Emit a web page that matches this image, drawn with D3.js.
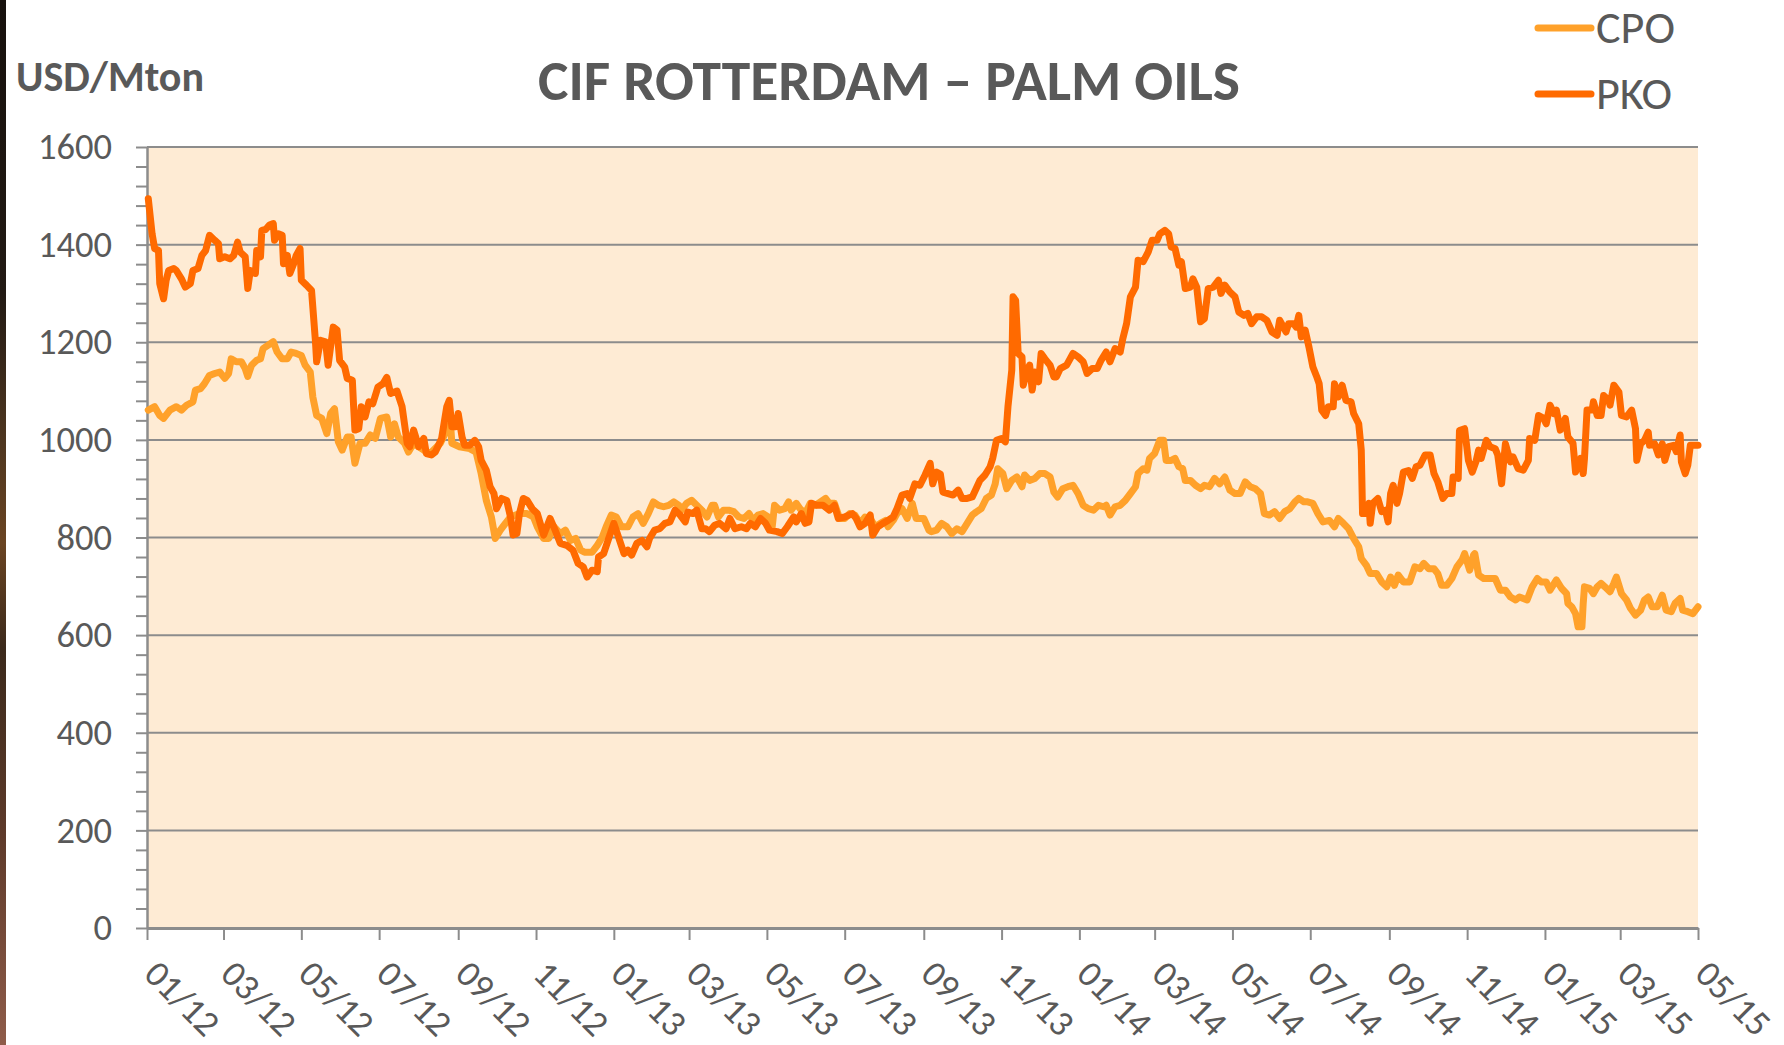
<!DOCTYPE html>
<html>
<head>
<meta charset="utf-8">
<script src="https://cdn.jsdelivr.net/npm/d3@7"></script>
<style>
  body { margin: 0; background: #fff; }
  svg { display: block; }
</style>
</head>
<body>
<svg id="chart" width="1784" height="1045"></svg>
<script>
// chart texts
var title = "CIF ROTTERDAM \u2013 PALM OILS";
var unitLabel = "USD/Mton";
var seriesNames = ["CPO", "PKO"];

// axis range and ticks
var startDate = new Date(2012, 0, 1), endDate = new Date(2015, 4, 1);
var yMajor = [0, 200, 400, 600, 800, 1000, 1200, 1400, 1600];

// prices: [days since 1 Jan 2012, USD/Mton]
var cpo = [[1,1061],[6,1068],[10,1050],[13,1044],[18,1061],[23,1068],[27,1061],[31,1071],[36,1078],[38,1102],[42,1105],[45,1115],[49,1132],[53,1136],[57,1139],[61,1126],[64,1136],[66,1166],[70,1160],[74,1160],[77,1146],[79,1130],[82,1153],[86,1163],[89,1166],[91,1187],[95,1194],[99,1201],[102,1180],[106,1166],[110,1166],[113,1180],[117,1177],[121,1173],[124,1153],[128,1139],[130,1088],[133,1050],[137,1044],[141,1013],[144,1054],[147,1064],[150,996],[153,979],[157,1006],[160,1006],[163,952],[167,993],[171,993],[175,1010],[179,1003],[183,1044],[188,1047],[191,1006],[194,1033],[197,1006],[202,993],[205,975],[209,993],[217,979],[222,972],[230,993],[235,1020],[238,1033],[239,993],[245,986],[253,982],[258,975],[262,931],[266,876],[270,842],[273,798],[277,815],[281,829],[285,842],[292,849],[298,849],[303,842],
  [306,822],[311,798],[315,798],[319,822],[324,808],[328,815],[332,794],[336,798],[340,774],[343,770],[349,770],[353,784],[357,801],[360,822],[364,846],[368,842],[372,822],[377,822],[381,842],[385,849],[389,829],[393,849],[397,873],[401,866],[405,863],[409,866],[413,873],[417,866],[419,856],[423,870],[427,876],[431,866],[435,856],[439,842],[443,866],[445,866],[448,842],[452,856],[456,856],[460,853],[464,842],[468,839],[472,849],[475,835],[479,846],[483,849],[487,842],[490,818],[492,866],[496,856],[500,859],[503,873],[505,856],[509,870],[512,859],[516,849],[520,870],[524,866],[528,873],[532,880],[535,870],[539,870],[543,839],[547,839],[551,849],[555,846],[559,829],[563,842],[567,839],[571,822],[575,829],[579,835],[581,822],[585,835],[588,849],[592,859],[596,839],[600,870],[603,839],[609,839],[613,815],
  [615,812],[619,815],[623,829],[627,822],[631,808],[635,818],[639,812],[643,829],[647,846],[650,852],[654,859],[658,880],[662,887],[665,910],[667,941],[671,931],[674,900],[678,917],[682,924],[686,904],[688,928],[692,917],[696,921],[700,931],[704,931],[708,924],[711,893],[714,883],[718,900],[722,904],[726,907],[730,890],[734,866],[738,859],[742,856],[746,866],[750,863],[752,866],[755,846],[759,863],[763,866],[767,876],[771,890],[775,904],[777,931],[781,941],[784,938],[786,962],[790,972],[794,999],[797,999],[799,958],[803,958],[806,962],[809,945],[812,941],[814,917],[818,917],[822,907],[826,900],[829,907],[833,904],[837,921],[841,910],[845,924],[849,897],[853,890],[857,890],[861,914],[865,904],[869,900],[873,890],[876,849],[880,846],[884,853],[888,839],[892,853],[896,859],[900,873],[903,880],[907,873],[910,873],[914,870],[918,849],[922,832],
  [927,835],[931,822],[934,839],[938,829],[942,818],[946,798],[950,781],[952,757],[956,743],[959,726],[964,726],[968,709],[972,699],[975,719],[978,702],[981,723],[985,709],[990,709],[994,740],[998,736],[1001,747],[1005,736],[1009,736],[1012,726],[1015,702],[1019,702],[1023,716],[1027,740],[1031,754],[1033,767],[1037,733],[1040,764],[1041,767],[1044,723],[1048,716],[1053,716],[1057,716],[1061,692],[1065,692],[1069,678],[1073,672],[1076,678],[1082,672],[1086,699],[1090,716],[1093,709],[1097,709],[1100,692],[1105,713],[1109,696],[1113,685],[1114,665],[1117,658],[1120,644],[1122,617],[1125,617],[1126,665],[1127,699],[1131,696],[1134,685],[1137,699],[1140,706],[1143,699],[1147,689],[1150,706],[1152,719],[1156,685],[1160,672],[1163,655],[1167,641],[1171,651],[1174,672],[1177,678],[1180,658],[1184,658],[1188,682],[1191,651],[1195,648],[1198,665],[1202,675],[1204,651],[1208,648],[1212,644],[1216,658]];

var pko = [[1,1494],[4,1422],[6,1392],[9,1388],[10,1320],[13,1289],[15,1327],[17,1347],[21,1351],[23,1347],[27,1330],[30,1313],[34,1320],[36,1347],[40,1351],[43,1378],[46,1388],[49,1419],[53,1409],[56,1402],[57,1371],[61,1375],[65,1371],[68,1378],[71,1405],[73,1385],[77,1375],[79,1310],[81,1347],[85,1341],[86,1388],[89,1375],[90,1429],[93,1431],[96,1440],[99,1443],[100,1409],[103,1422],[106,1419],[107,1361],[110,1378],[112,1341],[115,1361],[117,1378],[120,1392],[121,1327],[125,1317],[129,1306],[132,1204],[133,1160],[136,1204],[140,1201],[142,1153],[146,1231],[149,1225],[151,1163],[155,1149],[157,1126],[161,1122],[162,1068],[163,1020],[166,1023],[168,1068],[171,1047],[174,1078],[177,1074],[181,1108],[185,1115],[188,1128],[191,1095],[196,1100],[200,1068],[204,993],[206,986],[209,1020],[213,986],[217,1003],[219,972],[223,969],[226,975],[228,986],[231,1003],[235,1068],[237,1081],[239,1027],[242,1027],[244,1054],[247,1006],[249,989],[253,989],[257,999],[260,986],[262,958],[266,938],[269,904],[272,890],[274,859],[278,880],[282,876],[285,842],[287,805],[290,808],[292,849],[295,880],[298,876],[302,859],
  [306,849],[311,805],[316,839],[320,815],[324,788],[329,784],[334,774],[338,747],[342,740],[345,719],[349,733],[353,730],[354,760],[358,767],[362,798],[366,829],[370,798],[374,767],[377,774],[380,764],[384,788],[388,794],[392,781],[394,798],[398,815],[402,818],[406,829],[410,832],[414,856],[418,846],[422,832],[424,852],[428,849],[431,856],[435,818],[438,818],[441,812],[445,825],[449,829],[454,818],[457,839],[461,818],[466,822],[470,818],[473,829],[477,822],[481,839],[485,829],[488,815],[494,812],[498,808],[502,822],[507,842],[509,832],[513,849],[516,829],[519,832],[521,870],[525,866],[530,866],[535,856],[539,866],[542,839],[547,842],[553,849],[556,839],[559,822],[563,829],[567,846],[569,805],[573,822],[577,829],[581,835],[585,842],[588,859],[592,887],[596,890],[598,880],[602,910],[606,907],
  [610,928],[614,952],[616,910],[619,934],[622,930],[624,893],[628,890],[632,887],[636,897],[639,880],[643,880],[647,883],[650,900],[653,917],[657,928],[661,945],[663,962],[666,999],[670,1003],[673,996],[675,1068],[678,1143],[679,1293],[681,1286],[683,1177],[686,1170],[687,1112],[690,1143],[692,1153],[694,1102],[696,1139],[699,1119],[701,1177],[704,1166],[708,1153],[711,1129],[713,1129],[716,1146],[721,1153],[726,1177],[730,1170],[734,1160],[737,1136],[741,1146],[745,1146],[748,1163],[752,1180],[755,1160],[759,1187],[763,1180],[765,1207],[768,1238],[771,1293],[775,1313],[777,1368],[781,1365],[785,1385],[788,1409],[792,1409],[794,1422],[798,1429],[801,1422],[803,1395],[806,1392],[809,1358],[811,1365],[814,1310],[818,1313],[820,1330],[823,1313],[826,1242],[829,1248],[832,1310],[836,1313],[840,1327],[842,1300],[845,1317],[849,1303],[853,1293],[856,1262],[860,1255],[863,1259],[866,1238],[870,1252],[874,1252],[878,1245],[882,1221],[886,1214],[888,1245],[891,1231],[893,1221],[895,1238],[899,1238],[901,1231],[903,1255],[905,1211],[908,1225],[911,1190],[914,1150],[917,1130],[919,1115],[921,1061],
  [924,1050],[926,1068],[930,1068],[931,1115],[934,1088],[937,1112],[940,1081],[944,1078],[946,1054],[950,1033],[952,979],[953,849],[955,849],[958,870],[959,829],[961,870],[965,880],[968,853],[971,856],[973,832],[975,890],[977,907],[980,870],[982,890],[985,934],[989,937],[992,921],[995,945],[998,948],[1002,969],[1006,969],[1009,931],[1012,914],[1016,880],[1019,890],[1023,890],[1024,924],[1028,921],[1029,1019],[1033,1023],[1036,958],[1039,934],[1042,956],[1044,979],[1046,962],[1050,999],[1053,986],[1057,982],[1059,969],[1062,910],[1065,992],[1069,955],[1071,965],[1075,941],[1079,938],[1083,958],[1084,1003],[1088,999],[1091,1050],[1095,1044],[1097,1033],[1100,1071],[1103,1054],[1105,1061],[1108,1020],[1112,1044],[1114,1006],[1118,993],[1120,934],[1124,962],[1126,931],[1127,962],[1129,1061],[1133,1061],[1134,1078],[1137,1050],[1140,1050],[1142,1091],[1146,1081],[1147,1071],[1150,1112],[1154,1098],[1156,1050],[1160,1047],[1164,1061],[1167,1023],[1168,958],[1171,992],[1174,999],[1177,1016],[1178,989],[1182,992],[1185,969],[1188,992],[1190,958],[1193,986],[1197,989],[1199,976],[1202,1010],[1203,955],[1206,931],[1208,948],[1210,989],[1212,989],[1216,989]];

var colors = { CPO: "#ffa12a", PKO: "#ff6a00" };
var font = "Carlito, Calibri, Lato, sans-serif";
var textCol = "#595959", gridCol = "#8c8c8c";

var plot = { left: 147, right: 1698, top: 147, bottom: 928 };

var svg = d3.select("#chart");

// font size that makes a string a given width
function fitSize(str, weight, target) {
    var t = svg.append("text").attr("font-family", font).attr("font-weight", weight)
        .attr("font-size", 100).text(str);
    var w = t.node().getComputedTextLength();
    t.remove();
    return 100 * target / w;
}

// dark strip on the left edge of the slide
var grad = svg.append("defs").append("linearGradient").attr("id", "edge")
    .attr("x1", 0).attr("y1", 0).attr("x2", 0).attr("y2", 1);
[[0, "#17110d"], [0.28, "#221a14"], [0.42, "#4e3620"], [0.52, "#6a4422"], [0.62, "#3c2a1c"], [0.8, "#5e3a2a"], [1, "#8f5c4a"]]
    .forEach(function(s) { grad.append("stop").attr("offset", s[0]).attr("stop-color", s[1]); });
svg.append("rect").attr("x", 0).attr("y", 0).attr("width", 6).attr("height", 1045).attr("fill", "url(#edge)");

var x = d3.scaleTime().domain([startDate, endDate]).range([plot.left, plot.right]);
var y = d3.scaleLinear().domain([0, 1600]).range([plot.bottom, plot.top]);

// plot area
svg.append("rect").attr("x", plot.left).attr("y", plot.top)
    .attr("width", plot.right - plot.left).attr("height", plot.bottom - plot.top)
    .attr("fill", "#feebd4");

// horizontal grid
svg.append("g").selectAll("line").data(yMajor.filter(function(v) { return v > 0; })).join("line")
    .attr("x1", plot.left).attr("x2", plot.right)
    .attr("y1", function(d) { return y(d); }).attr("y2", function(d) { return y(d); })
    .attr("stroke", gridCol).attr("stroke-width", 2);

var tickFont = fitSize("1600", "normal", 74);

// y axis with minor ticks every 40
var yAxis = d3.axisLeft(y).tickValues(d3.range(0, 1601, 40)).tickSize(11).tickSizeOuter(0).tickPadding(24)
    .tickFormat(function(d) { return d % 200 === 0 ? d : ""; });
var gy = svg.append("g").attr("transform", "translate(" + plot.left + ",0)").call(yAxis);
gy.select(".domain").attr("stroke", gridCol).attr("stroke-width", 2.5);
gy.selectAll(".tick line").attr("stroke", gridCol).attr("stroke-width", 2);
gy.selectAll(".tick text").attr("font-family", font).attr("font-size", tickFont).attr("fill", textCol);

// x axis every two months
var xAxis = d3.axisBottom(x).ticks(d3.timeMonth.every(2)).tickFormat(d3.timeFormat("%m/%y"))
    .tickSize(12).tickSizeOuter(0);
var gx = svg.append("g").attr("transform", "translate(0," + plot.bottom + ")").call(xAxis);
gx.select(".domain").attr("stroke", gridCol).attr("stroke-width", 3);
gx.selectAll(".tick line").attr("stroke", gridCol).attr("stroke-width", 2);
gx.selectAll(".tick text").attr("font-family", font).attr("font-size", tickFont).attr("fill", textCol)
    .attr("text-anchor", "start").attr("x", 0).attr("y", 0).attr("dy", 0)
    .attr("transform", "translate(-5,48) rotate(45)");

// lines
var line = d3.line()
    .x(function(d) { return x(d3.timeDay.offset(startDate, d[0])); })
    .y(function(d) { return y(d[1]); });

[["CPO", cpo], ["PKO", pko]].forEach(function(s) {
    svg.append("path").datum(s[1]).attr("d", line)
        .attr("fill", "none").attr("stroke", colors[s[0]]).attr("stroke-width", 7)
        .attr("stroke-linejoin", "round").attr("stroke-linecap", "round");
});

// title and unit
svg.append("text").attr("x", 889).attr("y", 100).attr("text-anchor", "middle")
    .attr("font-family", font).attr("font-weight", "bold")
    .attr("font-size", fitSize(title, "bold", 702)).attr("fill", textCol).text(title);
svg.append("text").attr("x", 16).attr("y", 91)
    .attr("font-family", font).attr("font-weight", "bold")
    .attr("font-size", fitSize(unitLabel, "bold", 188)).attr("fill", textCol).text(unitLabel);

// legend
var legFont = fitSize("CPO", "normal", 79);
var leg = svg.append("g").selectAll("g").data(seriesNames).join("g")
    .attr("transform", function(d, i) { return "translate(0," + (i * 66) + ")"; });
leg.append("line").attr("x1", 1538).attr("x2", 1591).attr("y1", 28).attr("y2", 28)
    .attr("stroke", function(d) { return colors[d]; }).attr("stroke-width", 7).attr("stroke-linecap", "round");
leg.append("text").attr("x", 1596).attr("y", 43)
    .attr("font-family", font).attr("font-size", legFont).attr("fill", textCol)
    .text(function(d) { return d; });
</script>
</body>
</html>
